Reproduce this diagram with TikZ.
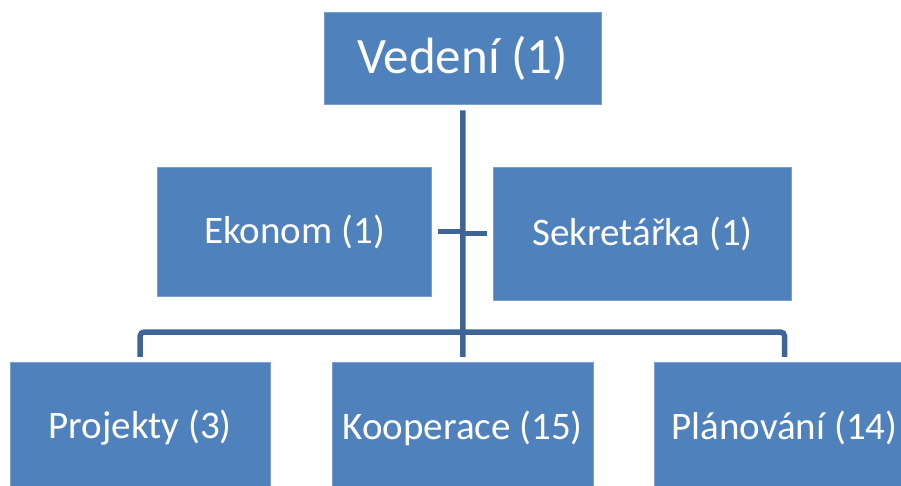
\documentclass[tikz,border=0pt]{standalone}
\usepackage{fontspec}
\setmainfont{Carlito}
\usepackage{xcolor}
\usepackage{tikz}
\usetikzlibrary{calc}
\definecolor{boxblue}{RGB}{79, 129, 189}
\definecolor{boxedge}{RGB}{124, 160, 206}
\definecolor{linkblue}{RGB}{62, 101, 150}

\begin{document}
\begin{tikzpicture}[x=1pt, y=-1pt,
    unit/.style={rectangle, fill=boxblue, draw=boxedge, line width=0.8pt, text=white,
        inner sep=0pt, font=\fontsize{39}{47}\selectfont},
    conn/.style={linkblue, line width=5.5pt, shorten <=5.5pt, shorten >=5.5pt}]
    \useasboundingbox (0,0) rectangle (901,486);
    \clip (0,0) rectangle (901,486);

    % Top level
    \node[unit, minimum width=276.5pt, minimum height=92.5pt, font=\fontsize{51}{61}\selectfont]
        (vedeni) at (462.75,58.25) {Vedení (1)};

    % Staff units
    \node[unit, minimum width=274pt, minimum height=128.7pt] (ekonom) at (294.7,231.7) {Ekonom (1)};
    \node[unit, minimum width=298.4pt, minimum height=132.7pt] (sekretarka) at (642.5,233.7) {Sekretářka (1)};

    % Departments
    \node[unit, minimum width=260.3pt, minimum height=130.6pt] (projekty) at (140.15,428) {Projekty (3)};
    \node[unit, minimum width=261pt, minimum height=130.6pt] (kooperace) at (462.8,428) {Kooperace (15)};
    \node[unit, minimum width=260pt, minimum height=130.6pt] (planovani) at (784.5,428) {Plánování (14)};

    % Connectors
    \coordinate (bar) at (462.75,332);
    \draw[conn] (vedeni.south) -- (kooperace.north);
    \draw[conn, shorten >=0pt] (ekonom.east) -- (ekonom.east -| vedeni.south);
    \draw[conn, shorten >=0pt] (sekretarka.west) -- (sekretarka.west -| vedeni.south);
    \draw[conn, rounded corners=4pt] (projekty.north) -- (projekty.north |- bar)
        -- (planovani.north |- bar) -- (planovani.north);
\end{tikzpicture}
\end{document}
